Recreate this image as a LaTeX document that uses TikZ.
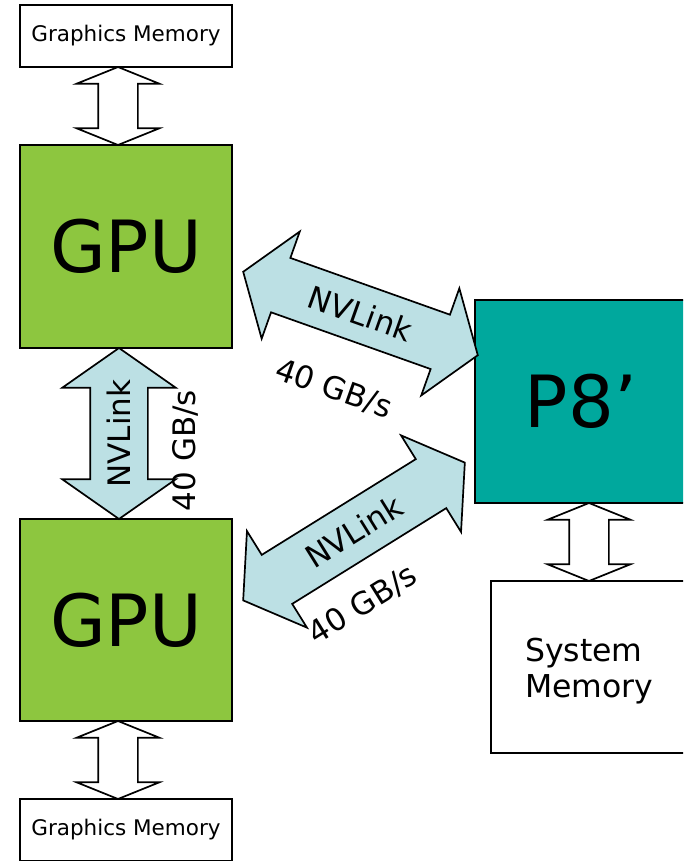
\documentclass[tikz,border=0pt]{standalone}
\usepackage{fontspec}
\setmainfont{DejaVu Sans}
\usetikzlibrary{calc,positioning,shapes.arrows}
\definecolor{gpuGreen}{RGB}{141,198,63}
\definecolor{cpuTeal}{RGB}{0,168,157}
\definecolor{linkBlue}{RGB}{188,224,228}

\begin{document}
\begin{tikzpicture}[x=1pt, y=-1pt,
  membox/.style={draw, line width=1.6pt, minimum width=212pt, minimum height=62pt,
     font=\fontsize{21.5}{25}\selectfont},
  chipbox/.style={draw, line width=1.6pt, minimum width=212pt, minimum height=203pt,
     font=\fontsize{72}{80}\selectfont},
  busarrow/.style={double arrow, draw, line width=1.7pt, fill=white, inner xsep=0pt,
     inner ysep=19pt, text height=0pt, text depth=0pt,
     double arrow head extend=21.5pt, double arrow tip angle=136},
  linkarrow/.style={double arrow, draw, line width=1.7pt, fill=linkBlue, inner xsep=2pt,
     inner ysep=16.5pt, text height=23pt, text depth=0pt,
     double arrow head extend=28pt, double arrow tip angle=110,
     font=\fontsize{31}{36}\selectfont},
  rate/.style={font=\fontsize{31}{36}\selectfont}]
  \path[use as bounding box, clip] (0,0) rectangle (683,861);

  % boxes
  \node[membox] (gmemtop) at (126,36) {Graphics Memory};
  \node[chipbox, fill=gpuGreen] (gpua) at (126,246.5) {GPU};
  \node[chipbox, fill=gpuGreen, minimum height=202pt] (gpub) at (126,620) {GPU};
  \node[membox] (gmembot) at (126,830) {Graphics Memory};
  \node[chipbox, fill=cpuTeal] (cpu) at (581,401.5) {P8’};
  \node[draw, line width=1.6pt, minimum width=212pt, minimum height=172pt, text width=144pt,
     align=left, font=\fontsize{31.5}{36}\selectfont] (sysmem) at (597,667)
     {\rule{0pt}{31pt}System\\Memory};

  % memory buses
  \path ($(gmemtop.south)+(-8,0)$) -- ($(gpua.north)+(-8,0)$)
     node[midway, sloped, busarrow, minimum height=78pt] {};
  \path ($(gpub.south)+(-8,0)$) -- ($(gmembot.north)+(-8,0)$)
     node[midway, sloped, busarrow, minimum height=78pt] {};
  \path ($(cpu.south)+(8,0)$) -- ($(sysmem.north)+(-8,0)$)
     node[midway, sloped, busarrow, minimum height=78pt] {};

  % NVLink connections
  \path ($(gpub.north)+(-7,0)$) -- ($(gpua.south)+(-7,0)$)
     node[midway, sloped, linkarrow, minimum height=171pt] (linkab) {NVLink}
     node[pos=0.4, sloped, rate, yshift=-66pt] {40 GB/s};
  \path ($(gpua.east)+(11,25.5)$) -- ($(cpu.west)+(3,-46.5)$)
     node[midway, sloped, linkarrow, minimum height=249pt] (linkac) {NVLink}
     node[midway, sloped, rate, yshift=-80pt] {40 GB/s};
  \path ($(gpub.east)+(11,-20)$) -- ($(cpu.west)+(-10,61.5)$)
     node[midway, sloped, linkarrow, minimum height=261pt] (linkbc) {NVLink}
     node[pos=0.38, sloped, rate, yshift=-67pt] {40 GB/s};
\end{tikzpicture}
\end{document}
